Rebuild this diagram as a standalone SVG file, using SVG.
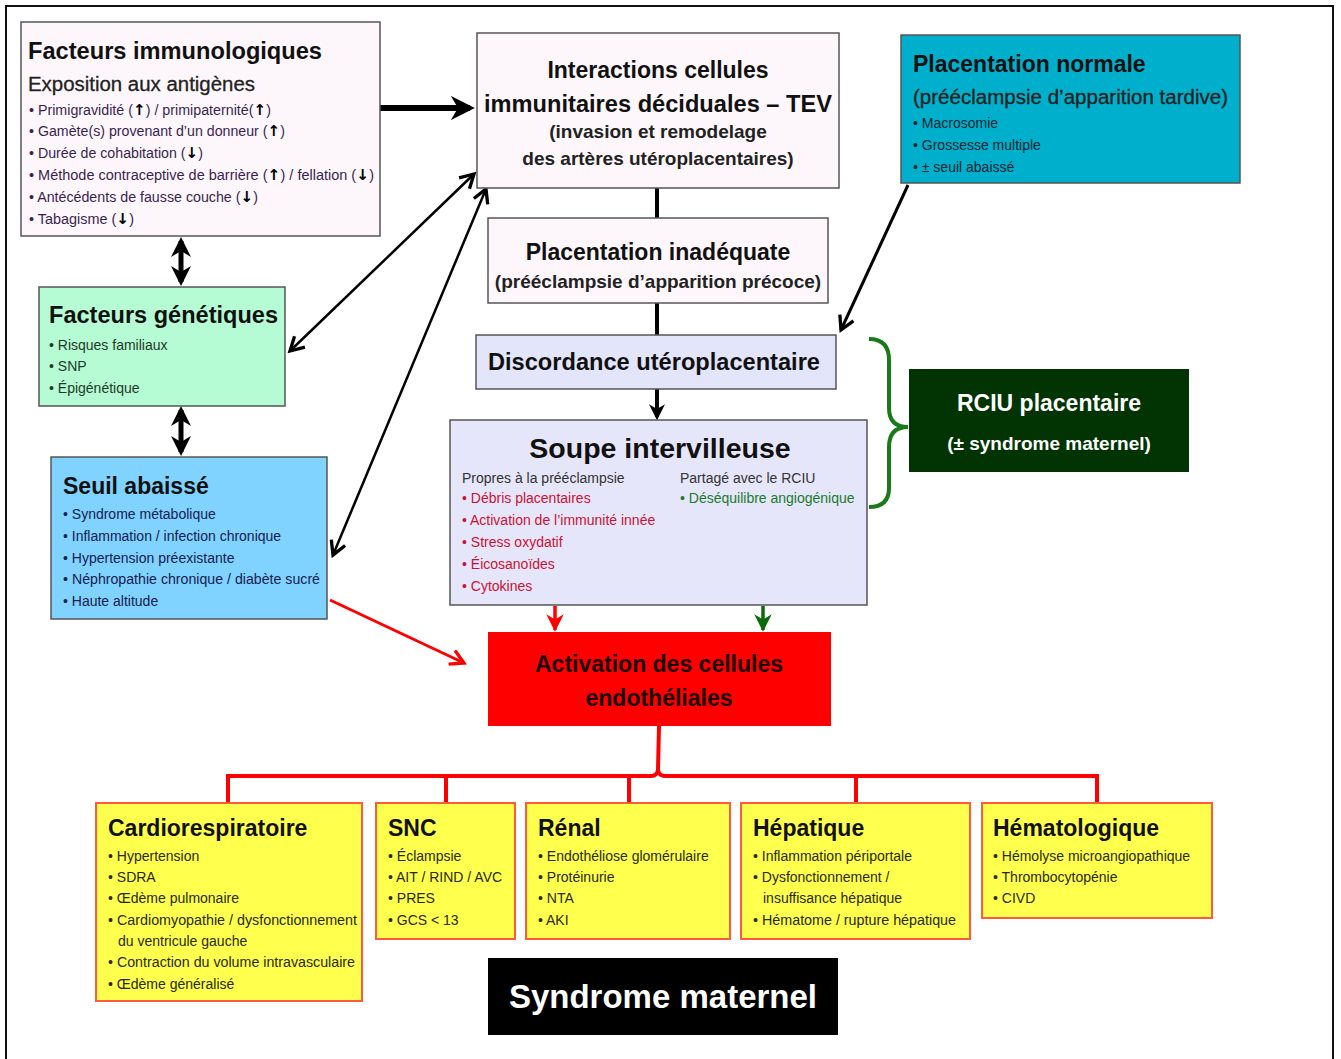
<svg xmlns="http://www.w3.org/2000/svg" width="1341" height="1059" viewBox="0 0 1341 1059">
<defs>
<style>
text{font-family:"Liberation Sans",Arial,sans-serif}
.box{stroke:#555;stroke-width:1.5}
.ttl{font-weight:bold;font-size:23px;fill:#111}
.sub{font-size:20px;fill:#222}
.bl{font-size:14px}
.ctr{text-anchor:middle}
.yel{fill:#ffff4d;stroke:#ff5a3c;stroke-width:2}
.yb{font-size:14px;fill:#2a2a10}
.ar{font-family:"DejaVu Sans",sans-serif;font-weight:bold;font-size:15px;fill:#000}
</style>
<marker id="hB" viewBox="0 0 10 10" refX="8" refY="5" markerWidth="4" markerHeight="4" orient="auto-start-reverse"><path d="M0,0 L10,5 L0,10 L3,5 Z" fill="#000"/></marker>
<marker id="vB" viewBox="0 0 12 12" refX="10" refY="6" markerWidth="18" markerHeight="18" markerUnits="userSpaceOnUse" orient="auto-start-reverse"><path d="M1,1 L10,6 L1,11" fill="none" stroke="#000" stroke-width="2.2"/></marker>
<marker id="vR" viewBox="0 0 12 12" refX="10" refY="6" markerWidth="18" markerHeight="18" markerUnits="userSpaceOnUse" orient="auto"><path d="M1,1 L10,6 L1,11" fill="none" stroke="#f00" stroke-width="2.2"/></marker>
<marker id="hR" viewBox="0 0 10 10" refX="9" refY="5" markerWidth="5" markerHeight="5" orient="auto"><path d="M0,0 L10,5 L0,10 L3,5 Z" fill="#f00"/></marker>
<marker id="hG" viewBox="0 0 10 10" refX="9" refY="5" markerWidth="5" markerHeight="5" orient="auto"><path d="M0,0 L10,5 L0,10 L3,5 Z" fill="#0a6a0a"/></marker>
</defs>
<rect x="0" y="0" width="1341" height="1059" fill="#fff"/>
<rect x="6" y="6" width="1327" height="1070" fill="none" stroke="#111" stroke-width="2"/>

<g id="connectors">
<line x1="380" y1="108" x2="470" y2="108" stroke="#000" stroke-width="6" marker-end="url(#hB)"/>
<line x1="181" y1="241" x2="181" y2="282" stroke="#000" stroke-width="5" marker-start="url(#hB)" marker-end="url(#hB)"/>
<line x1="181" y1="410" x2="181" y2="452" stroke="#000" stroke-width="5" marker-start="url(#hB)" marker-end="url(#hB)"/>
<line x1="474" y1="174" x2="290" y2="351" stroke="#000" stroke-width="2.5" marker-start="url(#vB)" marker-end="url(#vB)"/>
<line x1="486" y1="189" x2="333" y2="555" stroke="#000" stroke-width="2.5" marker-start="url(#vB)" marker-end="url(#vB)"/>
<line x1="908" y1="185" x2="841" y2="330" stroke="#000" stroke-width="3" marker-end="url(#vB)"/>
<line x1="657" y1="188" x2="657" y2="218" stroke="#000" stroke-width="4"/>
<line x1="657" y1="303" x2="657" y2="335" stroke="#000" stroke-width="4"/>
<line x1="657" y1="389" x2="657" y2="417" stroke="#000" stroke-width="4" marker-end="url(#hB)"/>
<path d="M869,339 Q889,339 889,360 L889,408 Q889,427 908,427 Q889,427 889,447 L889,488 Q889,507 869,507" fill="none" stroke="#1a7a1a" stroke-width="4"/>
<line x1="330" y1="600" x2="464" y2="663" stroke="#f00" stroke-width="3" marker-end="url(#vR)"/>
<line x1="555" y1="606" x2="555" y2="630" stroke="#f00" stroke-width="3.5" marker-end="url(#hR)"/>
<line x1="763" y1="606" x2="763" y2="630" stroke="#0a6a0a" stroke-width="3.5" marker-end="url(#hG)"/>
<path d="M659,726 L658,770 Q657,776 651,776 L228,776 L228,803 M658,770 Q659,776 665,776 L1097,776 L1097,803 M446,776 L446,803 M629,776 L629,803 M856,776 L856,803" fill="none" stroke="#f00" stroke-width="4"/>
</g>

<g id="immuno">
<rect class="box" x="21" y="22" width="359" height="214" fill="#fdf7fc"/>
<text class="ttl" x="28" y="59" textLength="294" lengthAdjust="spacingAndGlyphs">Facteurs immunologiques</text>
<text class="sub" x="28" y="91" textLength="227" lengthAdjust="spacingAndGlyphs" stroke="#222" stroke-width="0.3">Exposition aux antigènes</text>
<g class="bl" fill="#3a1f4e">
<text x="29" y="115" textLength="242" lengthAdjust="spacingAndGlyphs">• Primigravidité (<tspan class="ar">↑</tspan>) / primipaternité(<tspan class="ar">↑</tspan>)</text>
<text x="29" y="136" textLength="256" lengthAdjust="spacingAndGlyphs">• Gamète(s) provenant d’un donneur (<tspan class="ar">↑</tspan>)</text>
<text x="29" y="158" textLength="174" lengthAdjust="spacingAndGlyphs">• Durée de cohabitation (<tspan class="ar">↓</tspan>)</text>
<text x="29" y="180" textLength="345" lengthAdjust="spacingAndGlyphs">• Méthode contraceptive de barrière (<tspan class="ar">↑</tspan>)  / fellation (<tspan class="ar">↓</tspan>)</text>
<text x="29" y="202" textLength="229" lengthAdjust="spacingAndGlyphs">• Antécédents de fausse couche (<tspan class="ar">↓</tspan>)</text>
<text x="29" y="224" textLength="105" lengthAdjust="spacingAndGlyphs">• Tabagisme (<tspan class="ar">↓</tspan>)</text>
</g>
</g>

<g id="tev">
<rect class="box" x="477" y="33" width="362" height="155" fill="#fdf7fc"/>
<text class="ttl ctr" x="658" y="78">Interactions cellules</text>
<text class="ttl ctr" x="658" y="112" textLength="348" lengthAdjust="spacingAndGlyphs">immunitaires déciduales – TEV</text>
<text class="ctr" x="658" y="138" font-size="19" font-weight="bold" fill="#222">(invasion et remodelage</text>
<text class="ctr" x="658" y="165" font-size="19" font-weight="bold" fill="#222">des artères utéroplacentaires)</text>
</g>

<g id="placentation-normale">
<rect class="box" x="901" y="35" width="339" height="148" fill="#00afcb"/>
<text class="ttl" x="913" y="72">Placentation normale</text>
<text class="sub" x="913" y="104" textLength="315" lengthAdjust="spacingAndGlyphs" stroke="#222" stroke-width="0.3">(prééclampsie d’apparition tardive)</text>
<g class="bl" fill="#0a2530">
<text x="913" y="128">• Macrosomie</text>
<text x="913" y="150">• Grossesse multiple</text>
<text x="913" y="172">• ± seuil abaissé</text>
</g>
</g>

<g id="placentation-inadequate">
<rect class="box" x="488" y="218" width="340" height="85" fill="#fdf7fc"/>
<text class="ttl ctr" x="658" y="260">Placentation inadéquate</text>
<text class="ctr" x="658" y="288" font-size="19" font-weight="bold" fill="#222">(prééclampsie d’apparition précoce)</text>
</g>

<g id="discordance">
<rect class="box" x="476" y="335" width="360" height="54" fill="#e3e5fa"/>
<text class="ttl ctr" x="654" y="370" textLength="332" lengthAdjust="spacingAndGlyphs">Discordance utéroplacentaire</text>
</g>

<g id="genetiques">
<rect class="box" x="39" y="287" width="246" height="119" fill="#b5fbd4"/>
<text class="ttl" x="49" y="323" textLength="229" lengthAdjust="spacingAndGlyphs">Facteurs génétiques</text>
<g class="bl" fill="#1f3a28">
<text x="49" y="350">• Risques familiaux</text>
<text x="49" y="371">• SNP</text>
<text x="49" y="393">• Épigénétique</text>
</g>
</g>

<g id="seuil">
<rect class="box" x="51" y="457" width="276" height="162" fill="#80d3ff"/>
<text class="ttl" x="63" y="494">Seuil abaissé</text>
<g class="bl" fill="#16204f">
<text x="63" y="519">• Syndrome métabolique</text>
<text x="63" y="541">• Inflammation / infection chronique</text>
<text x="63" y="563">• Hypertension préexistante</text>
<text x="63" y="584" textLength="257" lengthAdjust="spacingAndGlyphs">• Néphropathie chronique / diabète sucré</text>
<text x="63" y="606">• Haute altitude</text>
</g>
</g>

<g id="soupe">
<rect class="box" x="450" y="420" width="417" height="185" fill="#e6e6fa"/>
<text class="ctr" x="660" y="458" font-size="28.5" font-weight="bold" fill="#111">Soupe intervilleuse</text>
<text class="bl" x="462" y="483" fill="#333">Propres à la prééclampsie</text>
<g class="bl" fill="#cc1133">
<text x="462" y="503">• Débris placentaires</text>
<text x="462" y="525">• Activation de l’immunité innée</text>
<text x="462" y="547">• Stress oxydatif</text>
<text x="462" y="569">• Éicosanoïdes</text>
<text x="462" y="591">• Cytokines</text>
</g>
<text class="bl" x="680" y="483" fill="#333">Partagé avec le RCIU</text>
<text class="bl" x="680" y="503" fill="#1a7a2a">• Déséquilibre angiogénique</text>
</g>

<g id="rciu">
<rect x="909" y="369" width="280" height="103" fill="#023302"/>
<text class="ctr" x="1049" y="411" font-size="23" font-weight="bold" fill="#fff">RCIU placentaire</text>
<text class="ctr" x="1049" y="450" font-size="19" font-weight="bold" fill="#fff">(± syndrome maternel)</text>
</g>

<g id="activation">
<rect x="488" y="632" width="343" height="94" fill="#ff0000"/>
<text class="ctr" x="659" y="672" font-size="23" font-weight="bold" fill="#1a0000">Activation des cellules</text>
<text class="ctr" x="659" y="706" font-size="23" font-weight="bold" fill="#1a0000">endothéliales</text>
</g>

<g id="cardio">
<rect class="yel" x="96" y="803" width="266" height="198"/>
<text class="ttl" x="108" y="836">Cardiorespiratoire</text>
<g class="yb">
<text x="108" y="861">• Hypertension</text>
<text x="108" y="882">• SDRA</text>
<text x="108" y="903">• Œdème pulmonaire</text>
<text x="108" y="925" textLength="249" lengthAdjust="spacingAndGlyphs">• Cardiomyopathie / dysfonctionnement</text>
<text x="118" y="946">du ventricule gauche</text>
<text x="108" y="967" textLength="247" lengthAdjust="spacingAndGlyphs">• Contraction du volume intravasculaire</text>
<text x="108" y="989">• Œdème généralisé</text>
</g>
</g>

<g id="snc">
<rect class="yel" x="376" y="803" width="139" height="136"/>
<text class="ttl" x="388" y="836">SNC</text>
<g class="yb">
<text x="388" y="861">• Éclampsie</text>
<text x="388" y="882">• AIT / RIND / AVC</text>
<text x="388" y="903">• PRES</text>
<text x="388" y="925">• GCS &lt; 13</text>
</g>
</g>

<g id="renal">
<rect class="yel" x="526" y="803" width="204" height="136"/>
<text class="ttl" x="538" y="836">Rénal</text>
<g class="yb">
<text x="538" y="861">• Endothéliose glomérulaire</text>
<text x="538" y="882">• Protéinurie</text>
<text x="538" y="903">• NTA</text>
<text x="538" y="925">• AKI</text>
</g>
</g>

<g id="hepatique">
<rect class="yel" x="741" y="803" width="229" height="136"/>
<text class="ttl" x="753" y="836">Hépatique</text>
<g class="yb">
<text x="753" y="861">• Inflammation périportale</text>
<text x="753" y="882">• Dysfonctionnement /</text>
<text x="763" y="903">insuffisance hépatique</text>
<text x="753" y="925" textLength="203" lengthAdjust="spacingAndGlyphs">• Hématome / rupture hépatique</text>
</g>
</g>

<g id="hemato">
<rect class="yel" x="982" y="803" width="230" height="115"/>
<text class="ttl" x="993" y="836">Hématologique</text>
<g class="yb">
<text x="993" y="861">• Hémolyse microangiopathique</text>
<text x="993" y="882">• Thrombocytopénie</text>
<text x="993" y="903">• CIVD</text>
</g>
</g>

<g id="syndrome">
<rect x="488" y="958" width="350" height="77" fill="#000"/>
<text class="ctr" x="663" y="1008" font-size="33" font-weight="bold" fill="#fff">Syndrome maternel</text>
</g>
</svg>
